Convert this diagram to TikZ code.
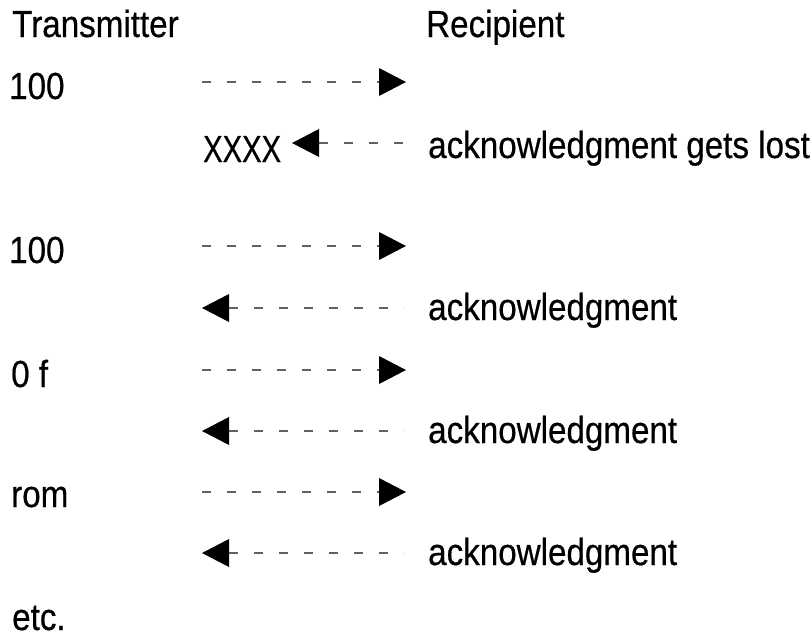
\documentclass[tikz,border=0pt]{standalone}
\usepackage{fontspec}
\setmainfont[FakeStretch=0.88,UprightFeatures={FakeBold=0.5}]{Liberation Sans}
\usetikzlibrary{arrows.meta}
\begin{document}
\begin{tikzpicture}[x=1pt,y=-1pt,
  lbl/.style={anchor=base west,inner sep=0pt,font=\fontsize{37.7}{40}\selectfont},
  msg/.style={line width=2.1pt,draw=black!62,dash pattern=on 9pt off 16pt},
  tosend/.style={msg,-{Triangle[length=27pt,width=28pt,color=black,line width=0pt]}},
  toack/.style={msg,{Triangle[length=27pt,width=28pt,color=black,line width=0pt]}-}]
  \useasboundingbox (0,0) rectangle (810,637);

  % column headings
  \node[lbl] (tx) at (12,37) {Transmitter};
  \node[lbl] (rx) at (426,37) {Recipient};

  % sender side labels
  \node[lbl] (d1) at (9,99) {100};
  \node[lbl,xscale=0.88] (lost) at (203,162) {XXXX};
  \node[lbl] (d2) at (9,263) {100};
  \node[lbl] (d3) at (11,387) {0 f};
  \node[lbl] (d4) at (11,507) {rom};
  \node[lbl] (etc) at (12,630) {etc.};

  % recipient side labels
  \node[lbl] (a0) at (428,158) {acknowledgment gets lost};
  \node[lbl] (a1) at (428,320) {acknowledgment};
  \node[lbl] (a2) at (428,443) {acknowledgment};
  \node[lbl] (a3) at (428,565) {acknowledgment};

  % message end points
  \coordinate (s1a) at (202,82);  \coordinate (s1b) at (406,82);
  \coordinate (r0a) at (292,143); \coordinate (r0b) at (404,143);
  \coordinate (s2a) at (202,246); \coordinate (s2b) at (406,246);
  \coordinate (r1a) at (202,308); \coordinate (r1b) at (404,308);
  \coordinate (s3a) at (202,370); \coordinate (s3b) at (406,370);
  \coordinate (r2a) at (202,431); \coordinate (r2b) at (404,431);
  \coordinate (s4a) at (202,492); \coordinate (s4b) at (406,492);
  \coordinate (r3a) at (202,553); \coordinate (r3b) at (404,553);

  % messages
  \draw[tosend] (s1a) -- (s1b);
  \draw[toack]  (r0a) -- (r0b);
  \draw[tosend] (s2a) -- (s2b);
  \draw[toack]  (r1a) -- (r1b);
  \draw[tosend] (s3a) -- (s3b);
  \draw[toack]  (r2a) -- (r2b);
  \draw[tosend] (s4a) -- (s4b);
  \draw[toack]  (r3a) -- (r3b);
\end{tikzpicture}
\end{document}
